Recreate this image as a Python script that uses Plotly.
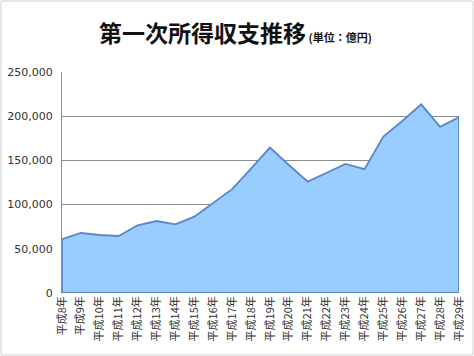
import plotly.graph_objects as go

years = ["平成8年", "平成9年", "平成10年", "平成11年", "平成12年", "平成13年", "平成14年",
         "平成15年", "平成16年", "平成17年", "平成18年", "平成19年", "平成20年", "平成21年",
         "平成22年", "平成23年", "平成24年", "平成25年", "平成26年", "平成27年", "平成28年",
         "平成29年"]
values = [61000, 68000, 65600, 64500, 76600, 81400, 77700, 86300, 102000, 117500, 140600,
          164500, 144800, 126000, 136000, 146000, 140000, 176900, 194600, 213400, 188000, 198700]
yticks = [0, 50000, 100000, 150000, 200000, 250000]
ytick_text = ["0", "50,000", "100,000", "150,000", "200,000", "250,000"]

W, H = 474, 356
L, R, T, B = 62, 15, 72, 63
pw, ph = W - L - R, H - T - B

idx = list(range(len(years)))
xs = [0] + idx + [idx[-1], 0]
ys = [0] + values + [0, 0]

fig = go.Figure()
fig.add_trace(go.Scatter(
    x=xs, y=ys, mode="lines", fill="toself",
    fillcolor="#99CCFF", line=dict(color="#5A86C5", width=1.8),
    hoverinfo="skip", showlegend=False))

fig.update_layout(
    width=W, height=H,
    margin=dict(l=L, r=R, t=T, b=B),
    paper_bgcolor="white", plot_bgcolor="white",
    showlegend=False,
    xaxis=dict(range=[0, len(years) - 1], tickmode="array", tickvals=idx, ticktext=years,
               tickangle=-90, showgrid=False, zeroline=False, showline=False, ticks="",
               tickfont=dict(family="Noto Sans CJK JP", size=11, color="#333333"),
               automargin=False, fixedrange=True),
    yaxis=dict(range=[0, 250000], tickmode="array", tickvals=yticks, ticktext=ytick_text,
               showgrid=True, gridcolor="#8C8C8C", gridwidth=1, zeroline=False,
               showline=True, linecolor="#8C8C8C", linewidth=1, ticks="",
               tickfont=dict(family="DejaVu Sans", size=11, color="#333333"),
               ticklabelstandoff=6, automargin=False, fixedrange=True),
    annotations=[dict(
        xref="paper", yref="paper",
        x=(235 - L) / pw, y=(H - B - 32) / ph,
        xanchor="center", yanchor="middle", showarrow=False,
        text="<b>第一次所得収支推移</b><b><span style='font-size:11px'> (単位：億円)</span></b>",
        font=dict(family="Noto Sans CJK JP", size=23, color="#111111"))],
    shapes=[dict(type="rect", xref="paper", yref="paper",
                 x0=(1 - L) / pw, x1=(W - 1 - L) / pw,
                 y0=(H - B - (H - 1)) / ph, y1=(H - B - 1) / ph,
                 line=dict(color="#D0D0D0", width=1), layer="below")],
)

fig.write_html("out.html")
